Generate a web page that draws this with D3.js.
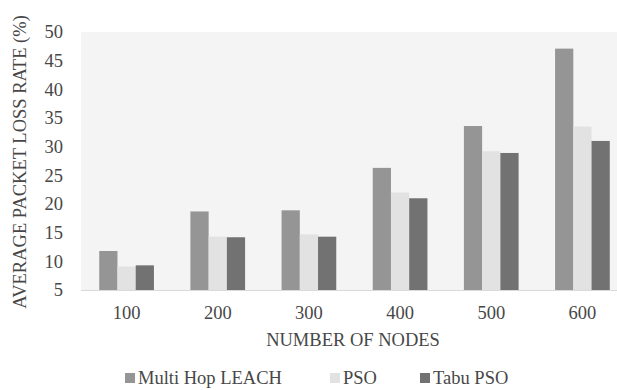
<!DOCTYPE html>
<html>
<head>
<meta charset="utf-8">
<script src="https://cdn.jsdelivr.net/npm/d3@7"></script>
<style>
  body { margin: 0; background: #fff; }
  text { font-family: "Liberation Serif", "Times New Roman", serif; fill: #474747; font-size: 18.5px; }
</style>
</head>
<body>
<div id="chart"></div>
<script>
// data
var nodes = ["100", "200", "300", "400", "500", "600"];
var seriesNames = ["Multi Hop LEACH", "PSO", "Tabu PSO"];
var multiHop = [11.8, 18.7, 18.9, 26.3, 33.6, 47.1];
var pso = [9.1, 14.3, 14.7, 22.0, 29.2, 33.5];
var tabuPso = [9.3, 14.2, 14.3, 21.0, 28.9, 31.0];
var yTicks = [5, 10, 15, 20, 25, 30, 35, 40, 45, 50];
var colors = ["#959595", "#e2e2e2", "#727272"];

var width = 617, height = 390;
var margin = {top: 32, left: 81, bottom: 100};
var plotRight = 628; // right side is cut off by the crop

var svg = d3.select("#chart").append("svg")
    .attr("width", width)
    .attr("height", height);

var x = d3.scaleBand()
    .domain(nodes)
    .range([margin.left, plotRight])
    .paddingInner(0.4)
    .paddingOuter(0.2);

var xs = d3.scaleBand()
    .domain(seriesNames)
    .range([0, x.bandwidth()]);

var y = d3.scaleLinear()
    .domain([5, 50])
    .range([height - margin.bottom, margin.top]);

// plot background
svg.append("rect")
    .attr("x", margin.left)
    .attr("y", margin.top)
    .attr("width", plotRight - margin.left)
    .attr("height", y(5) - y(50))
    .attr("fill", "#f4f4f4");

// y tick labels
svg.append("g")
  .selectAll("text")
  .data(yTicks)
  .enter().append("text")
    .attr("x", 63)
    .attr("y", function(d) { return y(d); })
    .attr("dy", "0.35em")
    .attr("text-anchor", "end")
    .text(function(d) { return d; });

// bars
var series = [multiHop, pso, tabuPso];
var barData = [];
nodes.forEach(function(n, i) {
  seriesNames.forEach(function(s, j) {
    barData.push({node: n, name: s, value: series[j][i], color: colors[j]});
  });
});

svg.append("g")
  .selectAll("rect")
  .data(barData)
  .enter().append("rect")
    .attr("x", function(d) { return x(d.node) + xs(d.name); })
    .attr("y", function(d) { return y(d.value); })
    .attr("width", xs.bandwidth())
    .attr("height", function(d) { return y(5) - y(d.value); })
    .attr("fill", function(d) { return d.color; });

// x axis line
svg.append("line")
    .attr("x1", margin.left)
    .attr("x2", plotRight)
    .attr("y1", y(5) + 0.5)
    .attr("y2", y(5) + 0.5)
    .attr("stroke", "#d9d9d9");

// x tick labels
svg.append("g")
  .selectAll("text")
  .data(nodes)
  .enter().append("text")
    .attr("x", function(d) { return x(d) + x.bandwidth() / 2; })
    .attr("y", 313)
    .attr("dy", "0.35em")
    .attr("text-anchor", "middle")
    .text(function(d) { return d; });

// axis titles
svg.append("text")
    .attr("x", 353)
    .attr("y", 340)
    .attr("dy", "0.35em")
    .attr("text-anchor", "middle")
    .text("NUMBER OF NODES");

svg.append("text")
    .attr("transform", "translate(20,162) rotate(-90)")
    .attr("dy", "0.35em")
    .attr("text-anchor", "middle")
    .text("AVERAGE PACKET LOSS RATE (%)");

// legend
var legendX = [125, 330, 420];
var legend = svg.append("g")
  .selectAll("g")
  .data(seriesNames)
  .enter().append("g")
    .attr("transform", function(d, i) { return "translate(" + legendX[i] + ",378)"; });

legend.append("rect")
    .attr("x", 0)
    .attr("y", -5)
    .attr("width", 10)
    .attr("height", 10)
    .attr("fill", function(d, i) { return colors[i]; });

legend.append("text")
    .attr("x", 13)
    .attr("dy", "0.35em")
    .text(function(d) { return d; });
</script>
</body>
</html>
